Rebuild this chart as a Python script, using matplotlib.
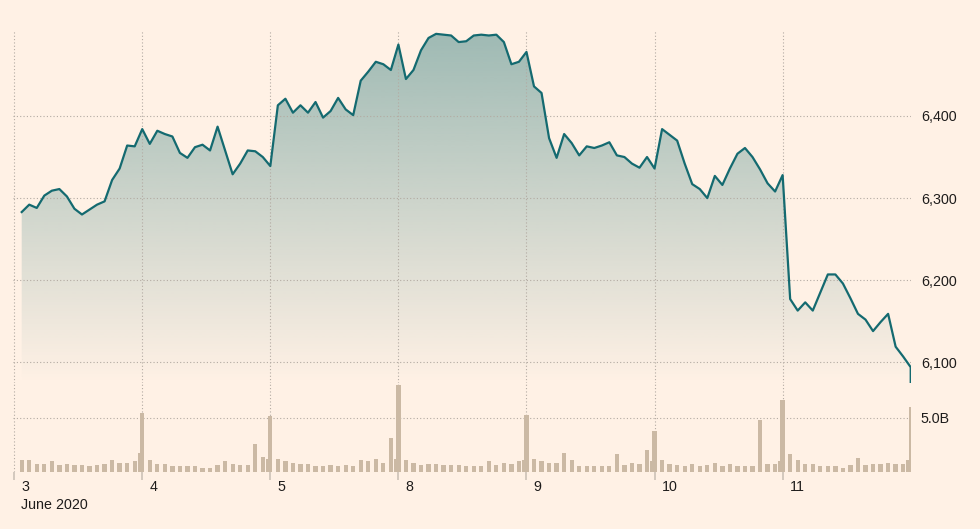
import numpy as np
import matplotlib
matplotlib.use("Agg")
import matplotlib.pyplot as plt
from matplotlib.colors import to_rgba

plt.rcParams["font.family"] = ["Liberation Sans", "DejaVu Sans"]

BG_COLOR = "#fff1e5"
LINE_COLOR = "#146a70"
FILL_COLOR = "#3c8282"
BAR_COLOR = "#cbb9a4"
GRID_COLOR = "#b3aaa2"
TICK_COLOR = "#d3c8bd"
TEXT_COLOR = "#1e1c1b"

DAY_LABELS = ["3", "4", "5", "8", "9", "10", "11"]
MONTH_LABEL = "June 2020"
PRICE_TICKS = [6100, 6200, 6300, 6400]
VOLUME_TICKS = [5.0]
POINTS_PER_DAY = 17

# index level, 17 readings per session, 3-11 June 2020
PRICES = [
    6283, 6292, 6288, 6303, 6309, 6311, 6302, 6287, 6280, 6286, 6292, 6296, 6322, 6336, 6364, 6363, 6384,
    6366, 6382, 6378, 6375, 6355, 6349, 6362, 6365, 6358, 6387, 6358, 6329, 6342, 6358, 6357, 6350, 6339,
    6413, 6421, 6404, 6413, 6404, 6417, 6398, 6406, 6422, 6408, 6401, 6443, 6454, 6466, 6463, 6456, 6487,
    6445, 6456, 6480, 6495, 6500, 6499, 6498, 6490, 6491, 6498, 6499, 6498, 6499, 6490, 6463, 6466, 6478,
    6436, 6428, 6373, 6349, 6378, 6367, 6352, 6363, 6361, 6364, 6368, 6352, 6350, 6342, 6337, 6350, 6336,
    6384, 6377, 6370, 6342, 6317, 6311, 6300, 6327, 6316, 6336, 6354, 6361, 6350, 6335, 6318, 6308, 6328,
    6177, 6163, 6173, 6163, 6185, 6207, 6207, 6196, 6178, 6159, 6152, 6138, 6149, 6159, 6119, 6107, 6094,
]
CLOSE_AUCTION_PRICE = 6076

# traded volume, billions
VOLUMES = [
    1.08, 1.08, 0.71, 0.71, 0.99, 0.62, 0.71, 0.62, 0.62, 0.52, 0.62, 0.71, 1.08, 0.83, 0.83, 0.99, 1.76,
    1.08, 0.71, 0.71, 0.52, 0.52, 0.52, 0.52, 0.40, 0.40, 0.62, 0.99, 0.71, 0.62, 0.62, 2.56, 1.42, 1.17,
    1.17, 0.99, 0.86, 0.71, 0.71, 0.52, 0.52, 0.62, 0.52, 0.62, 0.52, 1.08, 0.99, 1.17, 0.86, 3.12, 1.17,
    1.08, 0.86, 0.62, 0.71, 0.71, 0.62, 0.62, 0.62, 0.52, 0.52, 0.52, 0.99, 0.62, 0.86, 0.71, 0.99, 1.08,
    1.17, 0.99, 0.86, 0.86, 1.76, 1.08, 0.52, 0.52, 0.52, 0.52, 0.52, 1.64, 0.62, 0.86, 0.71, 2.00, 0.99,
    1.08, 0.71, 0.62, 0.52, 0.71, 0.52, 0.62, 0.86, 0.52, 0.71, 0.52, 0.52, 0.52, 4.85, 0.71, 0.71, 0.99,
    1.64, 1.08, 0.71, 0.71, 0.52, 0.52, 0.52, 0.40, 0.62, 1.33, 0.62, 0.71, 0.71, 0.86, 0.71, 0.71, 1.08,
]
CLOSE_AUCTION_VOLUMES = [5.49, 5.19, 8.02, 5.31, 3.80, 6.64, 6.02]

# layout in pixels of the 980x529 canvas
FIG_W, FIG_H = 980, 529
PX_PER_POINT = 7.534
FIRST_POINT_PX = 21.7
X_MIN, X_MAX = -1.15, 118.05
PRICE_TOP_PX, PRICE_BOTTOM_PX, VOLUME_BOTTOM_PX = 30, 383, 472
PRICE_LIM = (6074.8, 6504.7)
VOLUME_LIM = (0, 8.24)


def axes_rect(top_px, bottom_px):
    left = FIRST_POINT_PX + X_MIN * PX_PER_POINT
    width = (X_MAX - X_MIN) * PX_PER_POINT
    return [left / FIG_W, 1 - bottom_px / FIG_H, width / FIG_W, (bottom_px - top_px) / FIG_H]


def style_axes(ax, ylim, yticks, labels, gridlines):
    ax.set_facecolor("none")
    ax.set_xlim(X_MIN, X_MAX)
    ax.set_ylim(*ylim)
    for spine in ax.spines.values():
        spine.set_visible(False)
    ax.set_yticks(yticks)
    ax.set_yticklabels(labels)
    ax.yaxis.tick_right()
    ax.tick_params(axis="y", length=0, pad=7, labelsize=10.3, labelcolor=TEXT_COLOR)
    for value in yticks:
        ax.axhline(value, color=GRID_COLOR, lw=0.8, ls=(0, (1, 2)), zorder=1)
    for g in gridlines:
        ax.axvline(g, color=GRID_COLOR, lw=0.8, ls=(0, (1, 2)), zorder=1)


n_days = len(PRICES) // POINTS_PER_DAY
close_idx = [POINTS_PER_DAY * (d + 1) - 1 for d in range(n_days)]
day_starts = [-1] + close_idx[:-1]

fig = plt.figure(figsize=(FIG_W / 100, FIG_H / 100), dpi=100)
fig.patch.set_facecolor(BG_COLOR)

ax_price = fig.add_axes(axes_rect(PRICE_TOP_PX, PRICE_BOTTOM_PX))
ax_vol = fig.add_axes(axes_rect(PRICE_BOTTOM_PX, VOLUME_BOTTOM_PX))

# price line with gradient area underneath
x_line = list(range(len(PRICES))) + [close_idx[-1]]
y_line = PRICES + [CLOSE_AUCTION_PRICE]
area = ax_price.fill_between(x_line, y_line, PRICE_LIM[0], color="none", lw=0)
grad = np.zeros((256, 1, 4))
grad[:, 0, :3] = to_rgba(FILL_COLOR)[:3]
grad[:, 0, 3] = np.linspace(0.0, 0.5, 256)
img = ax_price.imshow(grad, extent=[X_MIN, X_MAX, PRICE_LIM[0], PRICE_LIM[1]], origin="lower",
                      aspect="auto", interpolation="bilinear", zorder=0)
img.set_clip_path(area.get_paths()[0], transform=ax_price.transData)
ax_price.plot(x_line, y_line, color=LINE_COLOR, lw=1.6, zorder=3)
style_axes(ax_price, PRICE_LIM, PRICE_TICKS, [f"{v:,}" for v in PRICE_TICKS], day_starts)
ax_price.set_xticks([])

# volume bars, closing auctions drawn over the last regular bar
bar_x = np.arange(len(VOLUMES), dtype=float)
bar_x[close_idx] -= 0.3
ax_vol.bar(bar_x, VOLUMES, width=0.57, color=BAR_COLOR, lw=0, zorder=2)
ax_vol.bar(close_idx, CLOSE_AUCTION_VOLUMES, width=0.57, color=BAR_COLOR, lw=0, zorder=2)
style_axes(ax_vol, VOLUME_LIM, VOLUME_TICKS, [f"{v:.1f}B" for v in VOLUME_TICKS], day_starts)
ax_vol.set_xticks(day_starts)
ax_vol.set_xticklabels([])
ax_vol.tick_params(axis="x", length=5.5, width=1.4, color=TICK_COLOR, direction="out")

for g, label in zip(day_starts, DAY_LABELS):
    ax_vol.annotate(label, xy=(g, 0), xycoords=("data", "axes fraction"), xytext=(5, -13.5),
                    textcoords="offset points", ha="left", va="baseline", fontsize=10.3, color=TEXT_COLOR)
ax_vol.annotate(MONTH_LABEL, xy=(day_starts[0], 0), xycoords=("data", "axes fraction"), xytext=(5, -26.8),
                textcoords="offset points", ha="left", va="baseline", fontsize=10.3, color=TEXT_COLOR)

fig.savefig("out.png", dpi=100, facecolor=BG_COLOR)
